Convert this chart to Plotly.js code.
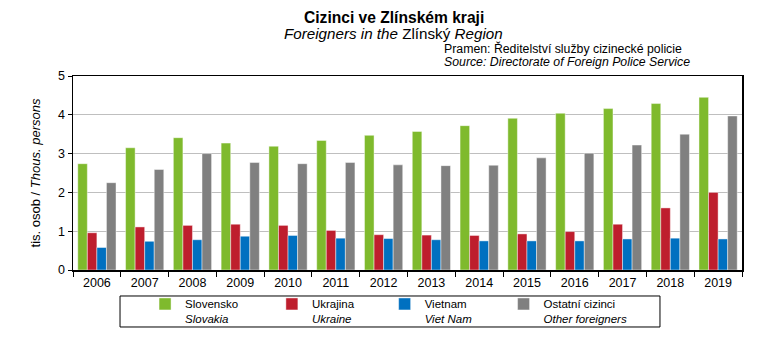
<!DOCTYPE html>
<html><head><meta charset="utf-8">
<script src="https://cdn.plot.ly/plotly-3.0.1.min.js"></script>
<style>html,body{margin:0;padding:0;background:#fff}#chart{width:783px;height:357px}</style>
</head><body><div id="chart"></div>
<script>
const years = ['2006','2007','2008','2009','2010','2011','2012','2013','2014','2015','2016','2017','2018','2019'];
const slovensko = [2.74,3.15,3.41,3.27,3.19,3.34,3.47,3.57,3.72,3.91,4.04,4.16,4.29,4.45];
const ukrajina  = [0.96,1.11,1.15,1.18,1.15,1.02,0.91,0.90,0.89,0.93,0.99,1.18,1.60,2.00];
const vietnam   = [0.58,0.74,0.78,0.87,0.89,0.82,0.81,0.78,0.75,0.75,0.75,0.80,0.82,0.80];
const ostatni   = [2.25,2.59,3.00,2.77,2.74,2.77,2.71,2.69,2.70,2.89,3.01,3.22,3.50,3.97];
const namesCz = ['Slovensko','Ukrajina','Vietnam','Ostatní cizinci'];
const namesEn = ['Slovakia','Ukraine','Viet Nam','Other foreigners'];
const colors = ['#7FBA2D','#BE1E2D','#0070C0','#808080'];
const data = [slovensko, ukrajina, vietnam, ostatni];

// trailing non-breaking spaces only widen legend entries to match the reference spacing
const pad = [9, 8, 10, 0];
const FONT = 'Liberation Sans, Arial, sans-serif';
const traces = data.map((vals,i)=>({
  type:'bar', x:years, y:vals,
  name: namesCz[i] + '\u00A0'.repeat(pad[i]) + '<br><i>' + namesEn[i] + '</i>',
  marker:{color:colors[i], line:{color:'rgba(255,255,255,0.55)', width:0.8}},
  hoverinfo:'skip'
}));

const layout = {
  width:783, height:357,
  margin:{l:73, r:41, t:76, b:87},
  paper_bgcolor:'#fff', plot_bgcolor:'#fff',
  font:{family:FONT, size:11, color:'#000'},
  barmode:'group', bargap:0.2, bargroupgap:0,
  showlegend:true,
  legend:{orientation:'h', x:0.1077, xanchor:'left', y:-0.103, yanchor:'top',
    borderwidth:0, valign:'top', bgcolor:'rgba(0,0,0,0)',
    traceorder:'normal',
    font:{family:FONT, size:11.5, color:'#000'}, itemwidth:30,
    tracegroupgap:0},
  shapes:[
    {type:'rect', xref:'paper', yref:'paper', x0:0.0703, x1:0.8774, y0:-0.2938, y1:-0.134,
     line:{color:'#000', width:1}, fillcolor:'rgba(0,0,0,0)', layer:'below'}
  ],
  xaxis:{type:'category', tickson:'boundaries', ticks:'outside', ticklen:5, tickcolor:'#000',
    showline:true, linecolor:'#000', linewidth:1.5, mirror:true, showgrid:false,
    tickfont:{family:FONT, size:12.5, color:'#000'}, fixedrange:true},
  yaxis:{range:[0,5], dtick:1, ticks:'outside', ticklen:4, tickcolor:'#000',
    showline:true, linecolor:'#000', linewidth:1.5, mirror:true,
    gridcolor:'#BFBFBF', gridwidth:1, zeroline:false,
    tickfont:{family:FONT, size:12.5, color:'#000'},
    title:{text:'tis. osob / <i>Thous. persons</i>', font:{family:FONT, size:13, color:'#000'}, standoff:14},
    fixedrange:true},
  annotations:[
    {text:'<b>Cizinci ve Zlínském kraji</b>', xref:'paper', yref:'paper', x:0.5, y:1.299, xanchor:'center', yanchor:'middle', showarrow:false, font:{family:FONT, size:15.6, color:'#000'}, xshift:-14},
    {text:'<i>Foreigners in the </i>Zlínský<i> Region</i>', xref:'paper', yref:'paper', x:0.5, y:1.2216, xanchor:'center', yanchor:'middle', showarrow:false, font:{family:FONT, size:15.2, color:'#000'}, xshift:-14},
    {text:'Pramen: Ředitelství služby cizinecké policie', xref:'paper', yref:'paper', x:0, y:1.1443, xanchor:'left', yanchor:'middle', xshift:369, showarrow:false, font:{family:FONT, size:12.3, color:'#000'}},
    {text:'<i>Source: Directorate of Foreign Police Service</i>', xref:'paper', yref:'paper', x:0, y:1.0722, xanchor:'left', yanchor:'middle', xshift:369, showarrow:false, font:{family:FONT, size:12.3, color:'#000'}}
  ]
};
Plotly.newPlot('chart', traces, layout, {staticPlot:true});
</script></body></html>
